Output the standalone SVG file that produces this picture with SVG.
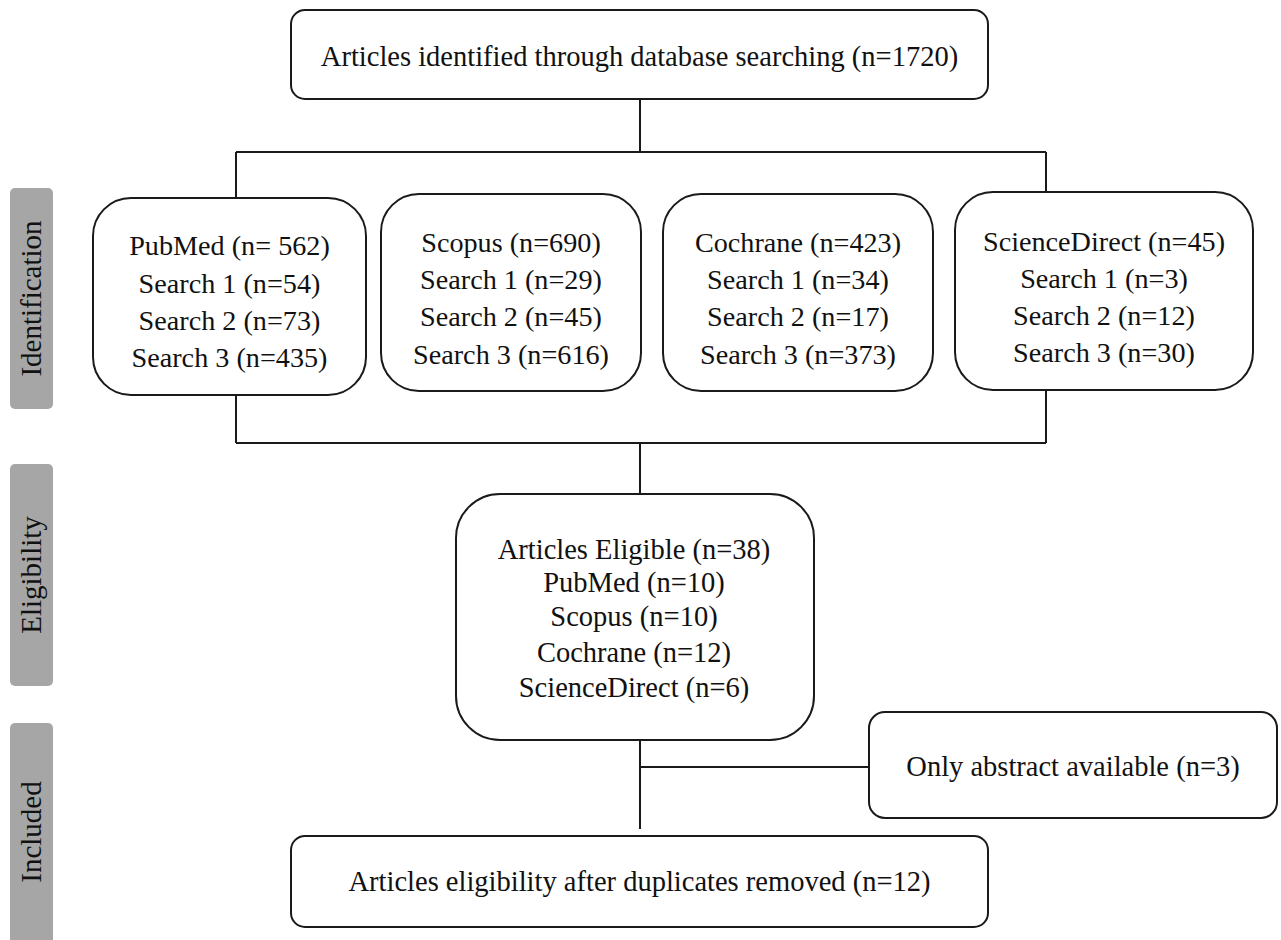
<svg xmlns="http://www.w3.org/2000/svg" width="1281" height="940" viewBox="0 0 1281 940">
<style>
.box{fill:#fff;stroke:#1a1a1a;stroke-width:2}
.side{fill:#a6a6a6}
text{font-family:"Liberation Serif","Times New Roman",serif;font-size:28.5px;fill:#111;text-anchor:middle}
.sm{font-size:28.2px}
.lbl{font-size:29px}
.conn{stroke:#1a1a1a;stroke-width:2;fill:none}
</style>
<rect width="1281" height="940" fill="#fff"/>
<g id="side-identification"><rect class="side" x="10" y="188" width="43" height="221" rx="5"/><text class="lbl" transform="translate(41,298.5) rotate(-90)">Identification</text></g>
<g id="side-eligibility"><rect class="side" x="10" y="464" width="43" height="222" rx="5"/><text class="lbl" transform="translate(41,575) rotate(-90)">Eligibility</text></g>
<g id="side-included"><rect class="side" x="10" y="723" width="43" height="230" rx="5"/><text class="lbl" transform="translate(41,832) rotate(-90)">Included</text></g>
<g id="connectors">
<path class="conn" d="M640,99 V152 M236,152 H1046 M236,152 V198 M1046,152 V192"/>
<path class="conn" d="M236,395 V443 M1046,390 V443 M236,443 H1046 M640,443 V494"/>
<path class="conn" d="M640,740 V829 M640,767 H869"/>
</g>
<g id="n-top"><rect class="box" x="291" y="10" width="697" height="89" rx="14"/><text x="639.5" y="66">Articles identified through database searching (n=1720)</text></g>
<g id="n-pubmed" class="sm"><rect class="box" x="93" y="198" width="273" height="197" rx="38"/>
<text class="sm" x="229.5" y="255">PubMed (n= 562)</text><text class="sm" x="229.5" y="293">Search 1 (n=54)</text><text class="sm" x="229.5" y="330">Search 2 (n=73)</text><text class="sm" x="229.5" y="367">Search 3 (n=435)</text></g>
<g id="n-scopus"><rect class="box" x="381" y="194" width="260" height="197" rx="38"/>
<text class="sm" x="511" y="252">Scopus (n=690)</text><text class="sm" x="511" y="289">Search 1 (n=29)</text><text class="sm" x="511" y="326">Search 2 (n=45)</text><text class="sm" x="511" y="364">Search 3 (n=616)</text></g>
<g id="n-cochrane"><rect class="box" x="663" y="194" width="270" height="197" rx="38"/>
<text class="sm" x="798" y="252">Cochrane (n=423)</text><text class="sm" x="798" y="289">Search 1 (n=34)</text><text class="sm" x="798" y="326">Search 2 (n=17)</text><text class="sm" x="798" y="364">Search 3 (n=373)</text></g>
<g id="n-sciencedirect"><rect class="box" x="955" y="192" width="298" height="198" rx="38"/>
<text class="sm" x="1104" y="251">ScienceDirect (n=45)</text><text class="sm" x="1104" y="288">Search 1 (n=3)</text><text class="sm" x="1104" y="325">Search 2 (n=12)</text><text class="sm" x="1104" y="362">Search 3 (n=30)</text></g>
<g id="n-eligible"><rect class="box" x="456" y="494" width="358" height="246" rx="44"/>
<text x="634" y="559">Articles Eligible (n=38)</text><text x="634" y="592">PubMed (n=10)</text><text x="634" y="626">Scopus (n=10)</text><text x="634" y="662">Cochrane (n=12)</text><text x="634" y="697">ScienceDirect (n=6)</text></g>
<g id="n-abstract"><rect class="box" x="869" y="712" width="408" height="106" rx="16"/><text x="1073" y="776">Only abstract available (n=3)</text></g>
<g id="n-final"><rect class="box" x="291" y="836" width="697" height="91" rx="14"/><text x="639.5" y="891">Articles eligibility after duplicates removed (n=12)</text></g>
</svg>
